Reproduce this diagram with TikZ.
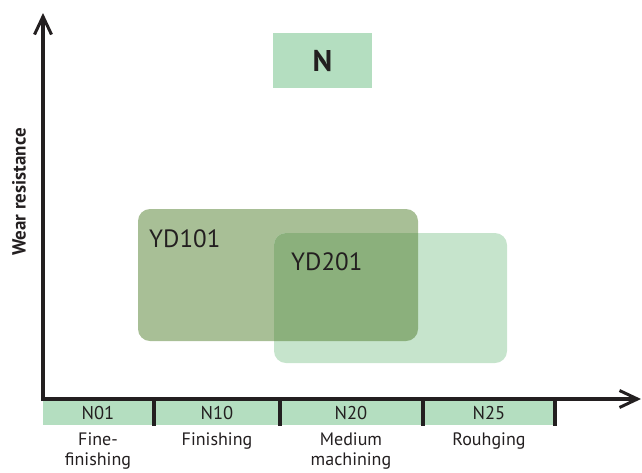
\documentclass[tikz,border=0pt]{standalone}
\usepackage{fontspec}
\setmainfont{PT Sans}
\usetikzlibrary{arrows.meta}
\definecolor{bandgreen}{HTML}{B4DEC0}
\definecolor{ydone}{HTML}{A8BF96}
\definecolor{ydtwo}{HTML}{C6E4CC}
\definecolor{ydboth}{HTML}{8BB07C}
\definecolor{txt}{HTML}{231F20}
\tikzset{
  axisline/.style={line width=3.4pt, draw=txt, -{Straight Barb[length=18pt,width=17pt,line width=3pt]}},
  divider/.style={line width=3.4pt, draw=txt},
  catlabel/.style={font=\fontsize{18.5}{20}\selectfont, text=txt, anchor=base},
  desclabel/.style={font=\fontsize{18}{19.5}\selectfont, text=txt, align=center, anchor=north, inner sep=0pt},
  ydlabel/.style={font=\fontsize{25}{27}\selectfont, text=txt, anchor=base west, inner sep=0pt},
}
\begin{document}
\begin{tikzpicture}[x=1pt,y=-1pt]
\useasboundingbox (0,0) rectangle (642,472);
% N box
\node[fill=bandgreen, minimum width=99pt, minimum height=55pt, inner sep=0pt,
      font=\bfseries\fontsize{30}{32}\selectfont, text=txt] (ntitle) at (322.5,60.5) {N};
% band
\fill[bandgreen] (43,401) rectangle (555,425);
% boxes
\fill[ydone, rounded corners=12pt] (138,209) rectangle (418,341);
\fill[ydtwo, rounded corners=12pt] (274,233) rectangle (507,363);
\begin{scope}
\clip[rounded corners=12pt] (138,209) rectangle (418,341);
\fill[ydboth, rounded corners=12pt] (274,233) rectangle (507,363);
\end{scope}
\node[ydlabel] (yd101) at (149,247) {YD101};
\node[ydlabel] (yd201) at (291,270) {YD201};
% axes
\coordinate (origin) at (43,399);
\coordinate (ytop) at (43,13);
\coordinate (xend) at (641,399);
\draw[axisline] (origin) -- (ytop);
\draw[axisline] ([xshift=-1.7pt]origin) -- (xend);
\node[rotate=90, font=\bfseries\fontsize{19}{20}\selectfont, text=txt] (ylab) at (19,192) {Wear resistance};
% dividers
\foreach \x/\n in {154/a,280/b,423/c,555/d}{
  \coordinate (top\n) at (\x,399);
  \coordinate (bot\n) at (\x,426);
  \draw[divider] (top\n) -- (bot\n);
}
\node[catlabel] (n01) at (98,419) {N01};
\node[catlabel] (n10) at (217,419) {N10};
\node[catlabel] (n20) at (351,419) {N20};
\node[catlabel] (n25) at (489,419) {N25};
\node[desclabel] (d01) at (98,433) {Fine-\\finishing};
\node[desclabel] (d10) at (217,433) {Finishing};
\node[desclabel] (d20) at (351,433) {Medium\\machining};
\node[desclabel] (d25) at (489,433) {Rouhging};
\end{tikzpicture}
\end{document}
